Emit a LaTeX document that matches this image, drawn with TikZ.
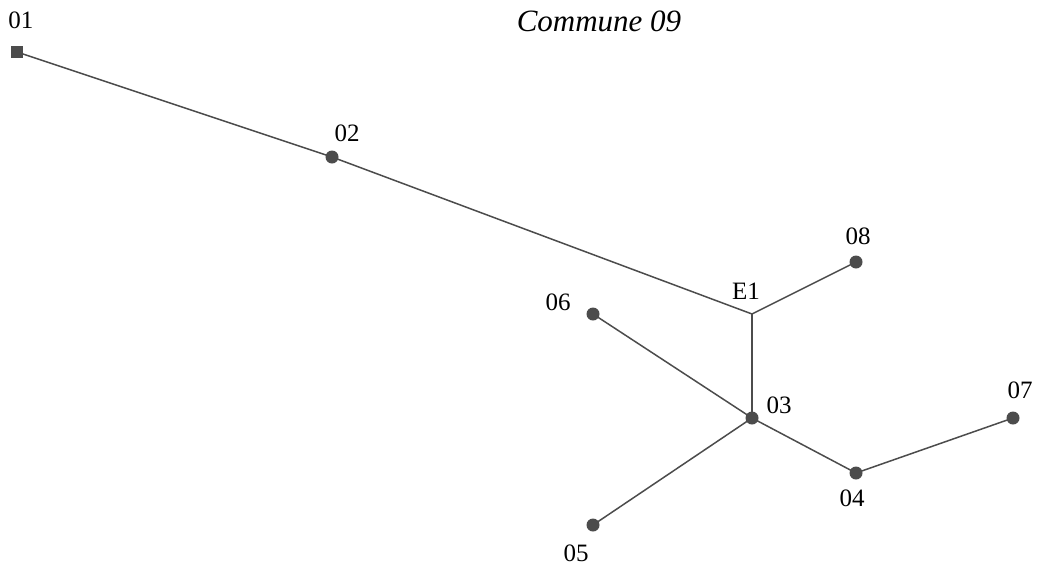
\documentclass[tikz,border=0pt]{standalone}
\usepackage{fontspec}
\setmainfont{Liberation Serif}
\usetikzlibrary{positioning}

\begin{document}
\begin{tikzpicture}[x=1pt,y=-1pt]
            \tikzstyle{stop} = [circle, fill=black!70, inner sep=0pt, minimum size=13pt]
            \tikzstyle{source} = [rectangle, fill=black!70, inner sep=0pt, minimum size=12pt]
            \tikzstyle{link} = [draw=black!70, line width=1.5pt]
            \tikzstyle{tag} = [font=\fontsize{25}{30}\selectfont, inner sep=0pt]

            \useasboundingbox (0,0) rectangle (1044,571);

            \node [tag, font=\fontsize{31}{36}\selectfont\itshape] (title) at (599,21) {Commune 09};

            \node [source] (n01) at (17,52) {};
            \node [stop] (n02) at (332,157) {};
            \coordinate (e1) at (752,314);
            \node [stop] (n08) at (856,262) {};
            \node [stop] (n06) at (593,314) {};
            \node [stop] (n03) at (752,418) {};
            \node [stop] (n07) at (1013,418) {};
            \node [stop] (n04) at (856,473) {};
            \node [stop] (n05) at (593,525) {};

            \draw [link] (n01.center) -- (n02.center) -- (e1);
            \draw [link] (e1) -- (n08.center);
            \draw [link] (e1) -- (n03.center);
            \draw [link] (n06.center) -- (n03.center) -- (n04.center) -- (n07.center);
            \draw [link] (n03.center) -- (n05.center);

            \node [tag] at (21,20) {01};
            \node [tag] at (347,133) {02};
            \node [tag] at (746,291) {E1};
            \node [tag] at (858,236) {08};
            \node [tag] at (558,302) {06};
            \node [tag] at (779,405) {03};
            \node [tag] at (1020,390) {07};
            \node [tag] at (852,498) {04};
            \node [tag] at (576,553) {05};
        \end{tikzpicture}
\end{document}
